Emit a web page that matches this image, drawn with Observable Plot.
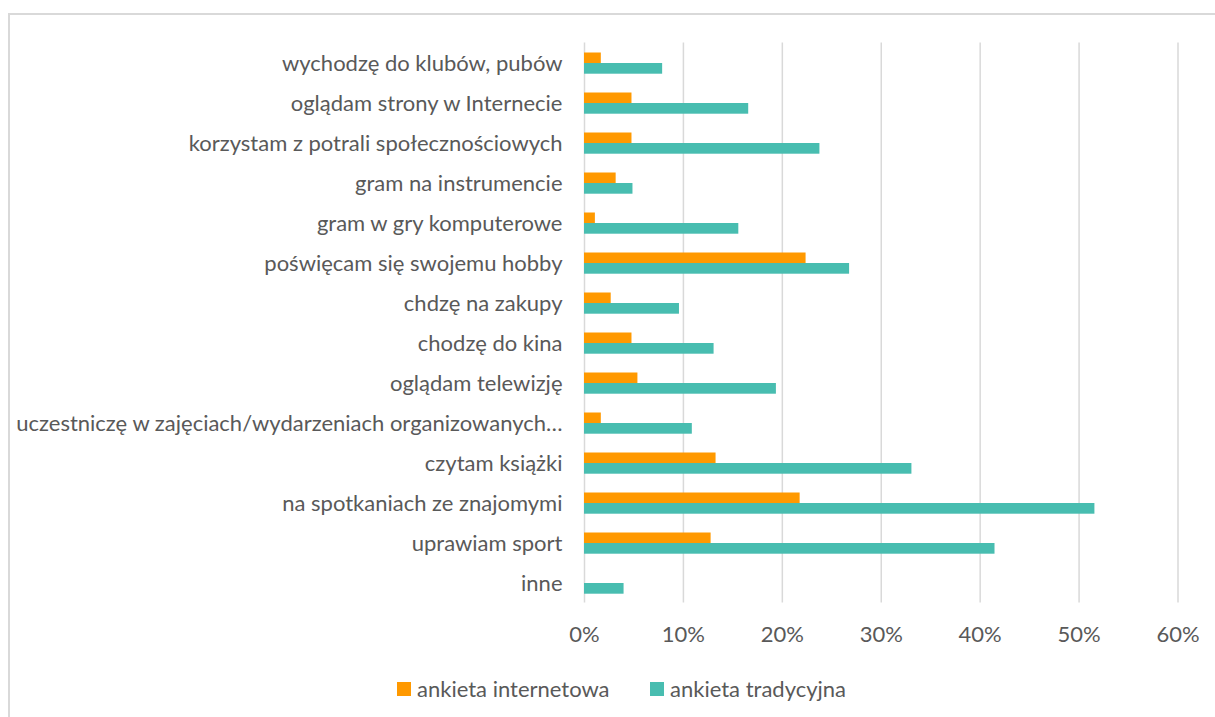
<!DOCTYPE html>
<html>
<head>
<meta charset="utf-8">
<script src="https://cdn.jsdelivr.net/npm/d3@7"></script>
<script src="https://cdn.jsdelivr.net/npm/@observablehq/plot@0.6"></script>
<style>
  html, body { margin: 0; padding: 0; background: #fff; }
  body { width: 1215px; height: 717px; position: relative; overflow: hidden; font-family: Lato, "Open Sans", sans-serif; }
  #frame { position: absolute; left: 8px; top: 13px; width: 1300px; height: 800px; border-top: 2px solid #d9d9d9; border-left: 2px solid #d9d9d9; }
  #chart { position: absolute; left: 0; top: 0; }
  #legend { position: absolute; left: 0; top: 675px; width: 1215px; height: 28px; font-size: 22px; color: #595959; white-space: nowrap; }
  #legend .sw { width: 14px; height: 14px; display: inline-block; margin-right: 6px; }
  #legend .item { position: absolute; top: 0; display: flex; align-items: center; }
</style>
</head>
<body>
<div id="frame"></div>
<div id="chart"></div>
<div id="legend"></div>
<script>
const categories = [
  "wychodzę do klubów, pubów",
  "oglądam strony w Internecie",
  "korzystam z potrali społecznościowych",
  "gram na instrumencie",
  "gram w gry komputerowe",
  "poświęcam się swojemu hobby",
  "chdzę na zakupy",
  "chodzę do kina",
  "oglądam telewizję",
  "uczestniczę w zajęciach/wydarzeniach organizowanych…",
  "czytam książki",
  "na spotkaniach ze znajomymi",
  "uprawiam sport",
  "inne"
];
const seriesNames = ["ankieta internetowa", "ankieta tradycyjna"];
const internetowa = [0.017, 0.048, 0.048, 0.032, 0.011, 0.224, 0.027, 0.048, 0.054, 0.017, 0.133, 0.218, 0.128, 0.0];
const tradycyjna  = [0.079, 0.166, 0.238, 0.049, 0.156, 0.268, 0.096, 0.131, 0.194, 0.109, 0.331, 0.516, 0.415, 0.040];
const xTicks = [0, 0.1, 0.2, 0.3, 0.4, 0.5, 0.6];
const colors = ["#ff9900", "#48bdb0"];
const legendLeft = [397, 650];

const dataInt = categories.map((c, i) => ({category: c, value: internetowa[i]}));
const dataTrad = categories.map((c, i) => ({category: c, value: tradycyjna[i]}));

const chart = Plot.plot({
  width: 1215,
  height: 660,
  marginLeft: 584,
  marginRight: 37.5,
  marginTop: 42.5,
  marginBottom: 57.5,
  style: { fontFamily: "Lato, 'Open Sans', sans-serif", fontSize: "22px", color: "#595959", background: "transparent" },
  x: { domain: [0, 0.6], ticks: xTicks, tickFormat: d3.format(".0%"), tickSize: 0, tickPadding: 23, label: null },
  y: { domain: categories, padding: 0, tickSize: 0, tickPadding: 22, label: null },
  marks: [
    Plot.gridX(xTicks, { stroke: "#d9d9d9", strokeOpacity: 1, strokeWidth: 1.5 }),
    Plot.barX(dataInt, { x: "value", y: "category", fill: colors[0], insetTop: 9.5, insetBottom: 20 }),
    Plot.barX(dataTrad, { x: "value", y: "category", fill: colors[1], insetTop: 20, insetBottom: 9.3 })
  ]
});
document.getElementById("chart").appendChild(chart);

const legend = document.getElementById("legend");
seriesNames.forEach((name, i) => {
  const item = document.createElement("div");
  item.className = "item";
  item.style.left = legendLeft[i] + "px";
  const sw = document.createElement("span");
  sw.className = "sw";
  sw.style.background = colors[i];
  item.appendChild(sw);
  item.appendChild(document.createTextNode(name));
  legend.appendChild(item);
});
</script>
</body>
</html>
